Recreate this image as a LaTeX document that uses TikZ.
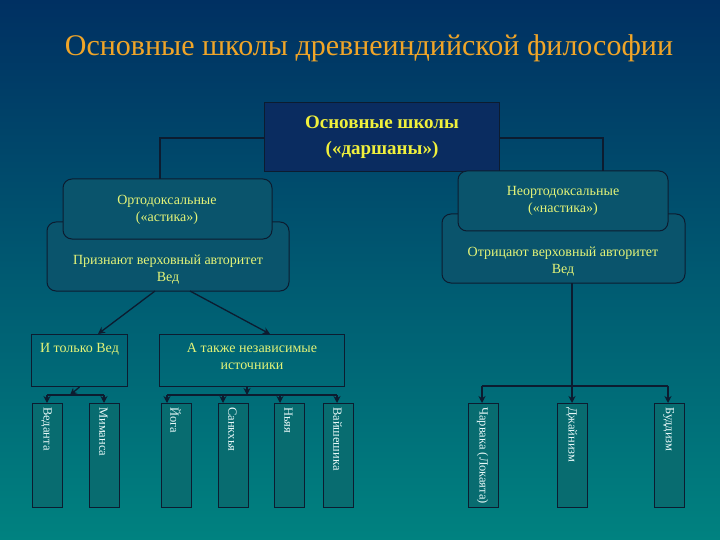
\documentclass[tikz,border=0pt]{standalone}
\usepackage{fontspec}
\setmainfont{Liberation Serif}
\usetikzlibrary{calc,arrows.meta,shadings}
\definecolor{bgtop}{RGB}{0,48,98}
\definecolor{bgbot}{RGB}{0,130,128}
\definecolor{titlec}{RGB}{240,165,40}
\definecolor{topfill}{RGB}{10,44,96}
\definecolor{yel}{RGB}{240,240,60}
\definecolor{txt}{RGB}{228,244,120}
\definecolor{edge}{RGB}{12,28,48}
\definecolor{rfill}{RGB}{10,84,108}
\definecolor{vfill}{RGB}{8,108,112}
\definecolor{vtxt}{RGB}{232,248,248}
\tikzset{
  rbox/.style={draw=edge, line width=1pt, rounded corners=9pt, fill=rfill},
  sbox/.style={draw=edge, line width=1pt},
  vbox/.style={draw=edge, line width=1pt, fill=vfill, minimum width=30pt, minimum height=104pt, anchor=north west, inner sep=0pt},
  vtext/.style={rotate=-90, anchor=west, text=vtxt, font=\fontsize{12.5}{15}\selectfont, inner sep=0pt},
  btext/.style={text=txt, font=\fontsize{14}{17}\selectfont, align=center},
  conn/.style={draw=edge, line width=1.3pt},
  arr/.style={conn, -{Stealth[length=7pt,width=7pt]}},
}
\begin{document}
\begin{tikzpicture}[x=1pt,y=-1pt]
\shade[top color=bgtop, bottom color=bgbot] (0,0) rectangle (720,540);
\useasboundingbox (0,0) rectangle (720,540);
% title
\node[text=titlec, font=\fontsize{30}{34}\selectfont] (title) at (369,48) {Основные школы древнеиндийской философии};
% top box
\node[draw=edge, line width=1pt, fill=topfill, minimum width=235pt, minimum height=69pt, anchor=north west, inner sep=0pt] (top) at (264,102) {};
\node[text=yel, font=\bfseries\fontsize{19}{26}\selectfont, align=center] (toptxt) at (top.center) {Основные школы\\(«даршаны»)};
% second-level boxes (back)
\draw[rbox] (47,222) rectangle (289,291);
\node[btext] (pr) at (168,270) {Признают верховный авторитет\\Вед};
\draw[rbox] (442,214) rectangle (685,283);
\node[btext] (ot) at (563,262) {Отрицают верховный авторитет\\Вед};
\coordinate (otb) at (572,283);
% front boxes
\draw[rbox] (63,179) rectangle (272,239);
\node[btext] (orth) at (167,210) {Ортодоксальные\\(«астика»)};
\draw[rbox] (458,171) rectangle (668,231);
\node[btext] (neo) at (563,201) {Неортодоксальные\\(«настика»)};
\coordinate (orthtop) at (160,179);
\coordinate (neotop) at (603,171);
% connectors from top
\draw[conn] (top.west |- 0,138) -| (orthtop);
\draw[conn] (top.east |- 0,138) -| (neotop);
% third level
\node[sbox, minimum width=96pt, minimum height=52pt, anchor=north west, inner sep=0pt] (only) at (31,334) {};
\node[btext, anchor=north] (onlyt) at ($(only.north)+(0,6)$) {И только Вед};
\node[sbox, minimum width=185pt, minimum height=52pt, anchor=north west, inner sep=0pt] (also) at (159,334) {};
\node[btext, anchor=north] (alsot) at ($(also.north)+(0,6)$) {А также независимые\\источники};
\coordinate (pra) at (155,291);
\coordinate (prb) at (190,291);
\draw[arr] (pra) -- (98,334);
\draw[arr] (prb) -- (270,334);
% vertical boxes
\node[vbox] (ved) at (32,403) {};
\node[vbox] (mim) at (89,403) {};
\node[vbox] (yog) at (161,403) {};
\node[vbox] (san) at (218,403) {};
\node[vbox] (nya) at (274,403) {};
\node[vbox] (vai) at (323,403) {};
\node[vbox] (cha) at (468,403) {};
\node[vbox] (dja) at (557,403) {};
\node[vbox] (bud) at (654,403) {};
\node[vtext] at ($(ved.north)+(-1,4)$) {Веданта};
\node[vtext] at ($(mim.north)+(-1,4)$) {Миманса};
\node[vtext] at ($(yog.north)+(-1,4)$) {Йога};
\node[vtext] at ($(san.north)+(-1,4)$) {Санкхья};
\node[vtext] at ($(nya.north)+(-1,4)$) {Ньяя};
\node[vtext] at ($(vai.north)+(-1,4)$) {Вайшешика};
\node[vtext] at ($(cha.north)+(-1,4)$) {Чарвака (Локаята)};
\node[vtext] at ($(dja.north)+(-1,4)$) {Джайнизм};
\node[vtext] at ($(bud.north)+(-1,4)$) {Буддизм};
% left group connectors
\coordinate (b1) at (70,395);
\coordinate (b1l) at (47,395);
\coordinate (b1r) at (104,395);
\draw[arr] (only.south) -- (b1);
\draw[conn] (b1l) -- (b1r);
\draw[arr] (b1l) -- (b1l |- ved.north);
\draw[arr] (b1r) -- (b1r |- mim.north);
% middle group
\coordinate (b2) at (247,395);
\coordinate (b2a) at (167,395);
\coordinate (b2b) at (223,395);
\coordinate (b2c) at (280,395);
\coordinate (b2d) at (337,395);
\draw[arr] (also.south -| b2) -- (b2);
\draw[conn] (b2a) -- (b2d);
\draw[arr] (b2a) -- (b2a |- yog.north);
\draw[arr] (b2b) -- (b2b |- san.north);
\draw[arr] (b2c) -- (b2c |- nya.north);
\draw[arr] (b2d) -- (b2d |- vai.north);
% right group
\coordinate (b3l) at (482,386);
\coordinate (b3r) at (668,386);
\draw[arr, line width=2.2pt] (otb) -- (otb |- dja.north);
\draw[conn] (b3l) -- (b3r);
\draw[arr] (b3l) -- (b3l |- cha.north);
\draw[arr] (b3r) -- (b3r |- bud.north);
\end{tikzpicture}
\end{document}
